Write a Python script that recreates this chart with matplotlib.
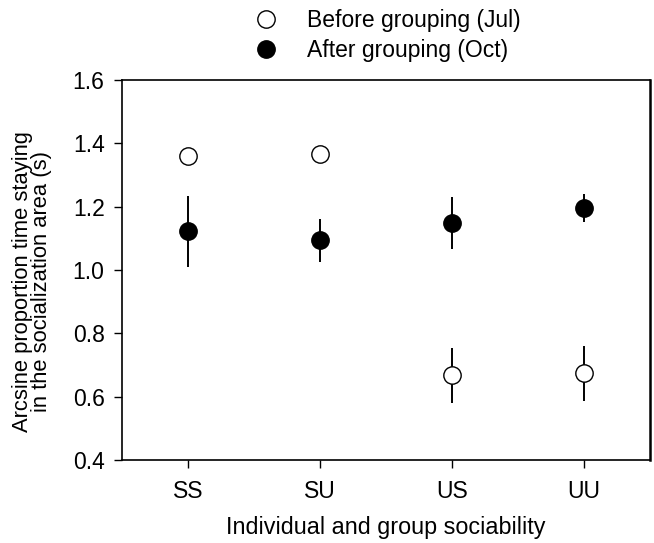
import numpy as np
import matplotlib.pyplot as plt

plt.rcParams['font.family'] = ['Liberation Sans', 'DejaVu Sans']

# Grupos de sociabilidad
grupos = ['SS', 'SU', 'US', 'UU']

# Antes del agrupamiento (Jul)
antes_media = [1.360, 1.367, 0.667, 0.674]
antes_err = [0.02, 0.02, 0.088, 0.087]

# Después del agrupamiento (Oct)
despues_media = [1.122, 1.094, 1.149, 1.196]
despues_err = [0.112, 0.068, 0.082, 0.045]

x = np.arange(1, len(grupos) + 1)

fig = plt.figure(figsize=(6.54, 5.43), dpi=100)
ax = fig.add_axes([0.1865, 0.1529, 0.8073, 0.6998])

# barras de error primero, luego marcadores encima
ax.errorbar(x, antes_media, yerr=antes_err, fmt='none', ecolor='black',
            elinewidth=1.4, capsize=0, zorder=2)
ax.errorbar(x, despues_media, yerr=despues_err, fmt='none', ecolor='black',
            elinewidth=1.4, capsize=0, zorder=2)
ax.plot(x, antes_media, 'o', markersize=12.5, markerfacecolor='white',
        markeredgecolor='black', markeredgewidth=1.0, linestyle='none',
        label='Before grouping (Jul)', zorder=3)
ax.plot(x, despues_media, 'o', markersize=12.5, markerfacecolor='black',
        markeredgecolor='black', linestyle='none',
        label='After grouping (Oct)', zorder=3)

ax.set_xlim(0.5, 4.5)
ax.set_ylim(0.4, 1.6)
ax.set_xticks(x)
ax.set_xticklabels(grupos)
ax.set_yticks(np.arange(0.4, 1.61, 0.2))
ax.set_yticklabels([f'{v:.1f}' for v in np.arange(0.4, 1.61, 0.2)])
ax.tick_params(axis='both', direction='out', length=5.5, width=1.0,
               labelsize=16.5, top=False, right=False)
ax.tick_params(axis='x', pad=9)
ax.tick_params(axis='y', pad=7)
for s in ax.spines.values():
    s.set_linewidth(1.2)
ax.spines['right'].set_linewidth(1.8)

ax.set_xlabel('Individual and group sociability', fontsize=16.8, labelpad=9)
ax.set_ylabel('Arcsine proportion time staying\nin the socialization area (s)',
              fontsize=15.8, linespacing=0.92)
ax.yaxis.set_label_coords(-0.132, 0.47)

fig.legend(loc='upper left', bbox_to_anchor=(0.389, 0.983), frameon=False,
           fontsize=16.5, handlelength=1.0, handletextpad=1.3,
           labelspacing=0.3, borderpad=0, borderaxespad=0)

fig.savefig('out.png', dpi=100)
